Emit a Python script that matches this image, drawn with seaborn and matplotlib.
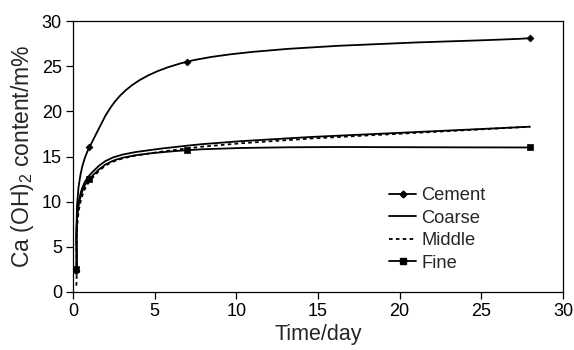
import numpy as np
import pandas as pd
import matplotlib
matplotlib.use("Agg")
import matplotlib.pyplot as plt
from matplotlib.path import Path
from matplotlib.patches import PathPatch
from matplotlib.lines import Line2D
import seaborn as sns

time_days = [0.2, 1, 7, 28]
cement = [2.3, 16.0, 25.5, 28.1]
coarse = [2.6, 12.9, 16.2, 18.3]
middle = [0.7, 12.2, 15.9, 18.3]
fine = [2.5, 12.5, 15.7, 16.0]
series_names = ["Cement", "Coarse", "Middle", "Fine"]
x_ticks = [0, 5, 10, 15, 20, 25, 30]
y_ticks = [0, 5, 10, 15, 20, 25, 30]

sns.set_theme(style="ticks")
plt.rcParams['font.family'] = ['Liberation Sans', 'DejaVu Sans']
plt.rcParams['mathtext.fontset'] = 'custom'
plt.rcParams['mathtext.rm'] = 'Liberation Sans'
plt.rcParams['mathtext.it'] = 'Liberation Sans'

df = pd.DataFrame({
    "time": time_days * 4,
    "value": cement + coarse + middle + fine,
    "series": sum([[n] * len(time_days) for n in series_names], []),
})

fig = plt.figure(figsize=(5.74, 3.5), dpi=100)
ax = fig.add_axes([73 / 574, 1 - 292 / 350, (563 - 73) / 574, (292 - 21) / 350])

styles = {
    "Cement": dict(ls="-", marker="D", ms=3.5),
    "Coarse": dict(ls="-", marker=None, ms=0),
    "Middle": dict(ls=(0, (2.0, 1.8)), marker=None, ms=0),
    "Fine": dict(ls="-", marker="s", ms=3.8),
}
lw = 1.3


def smooth_path(xs, ys):
    pts = np.column_stack([xs, ys]).astype(float)
    n = len(pts)
    verts = [pts[0]]
    codes = [Path.MOVETO]
    for i in range(n - 1):
        p_prev = pts[i - 1] if i > 0 else pts[i]
        p_next2 = pts[i + 2] if i + 2 < n else pts[i + 1]
        c1 = pts[i] + (pts[i + 1] - p_prev) / 6
        c2 = pts[i + 1] - (p_next2 - pts[i]) / 6
        verts += [c1, c2, pts[i + 1]]
        codes += [Path.CURVE4] * 3
    return Path(verts, codes)


for name in series_names:
    sub = df[df.series == name]
    st = styles[name]
    path = smooth_path(sub.time.values, sub.value.values)
    patch = PathPatch(path, facecolor="none", edgecolor="black", lw=lw,
                      linestyle=st["ls"], capstyle="butt")
    ax.add_patch(patch)
    if st["marker"]:
        sns.scatterplot(data=sub, x="time", y="value", marker=st["marker"],
                        s=st["ms"] ** 2, color="black", edgecolor="black",
                        linewidth=0.5, ax=ax, legend=False, zorder=3)

ax.set_xlim(0, 30)
ax.set_ylim(0, 30)
ax.set_xticks(x_ticks)
ax.set_yticks(y_ticks)
ax.tick_params(axis="both", direction="out", length=5, width=0.9,
               labelsize=13, colors="black", pad=3)
for sp in ax.spines.values():
    sp.set_visible(True)
    sp.set_linewidth(0.9)
    sp.set_color("black")

ax.set_xlabel("Time/day", fontsize=15.5, labelpad=3)
ax.set_ylabel("Ca (OH)$_\\mathregular{2}$ content/m%", fontsize=16.5, labelpad=4)

handles = []
for name in series_names:
    st = styles[name]
    handles.append(Line2D([], [], color="black", lw=lw, linestyle=st["ls"],
                          marker=st["marker"], ms=st["ms"]))
ax.legend(handles, series_names, loc="upper left",
          bbox_to_anchor=((382 - 73) / 490, (292 - 180) / 271),
          frameon=False, fontsize=13.2, handlelength=1.45, handletextpad=0.3,
          labelspacing=0.3, borderaxespad=0)

fig.savefig("out.png", dpi=100)
